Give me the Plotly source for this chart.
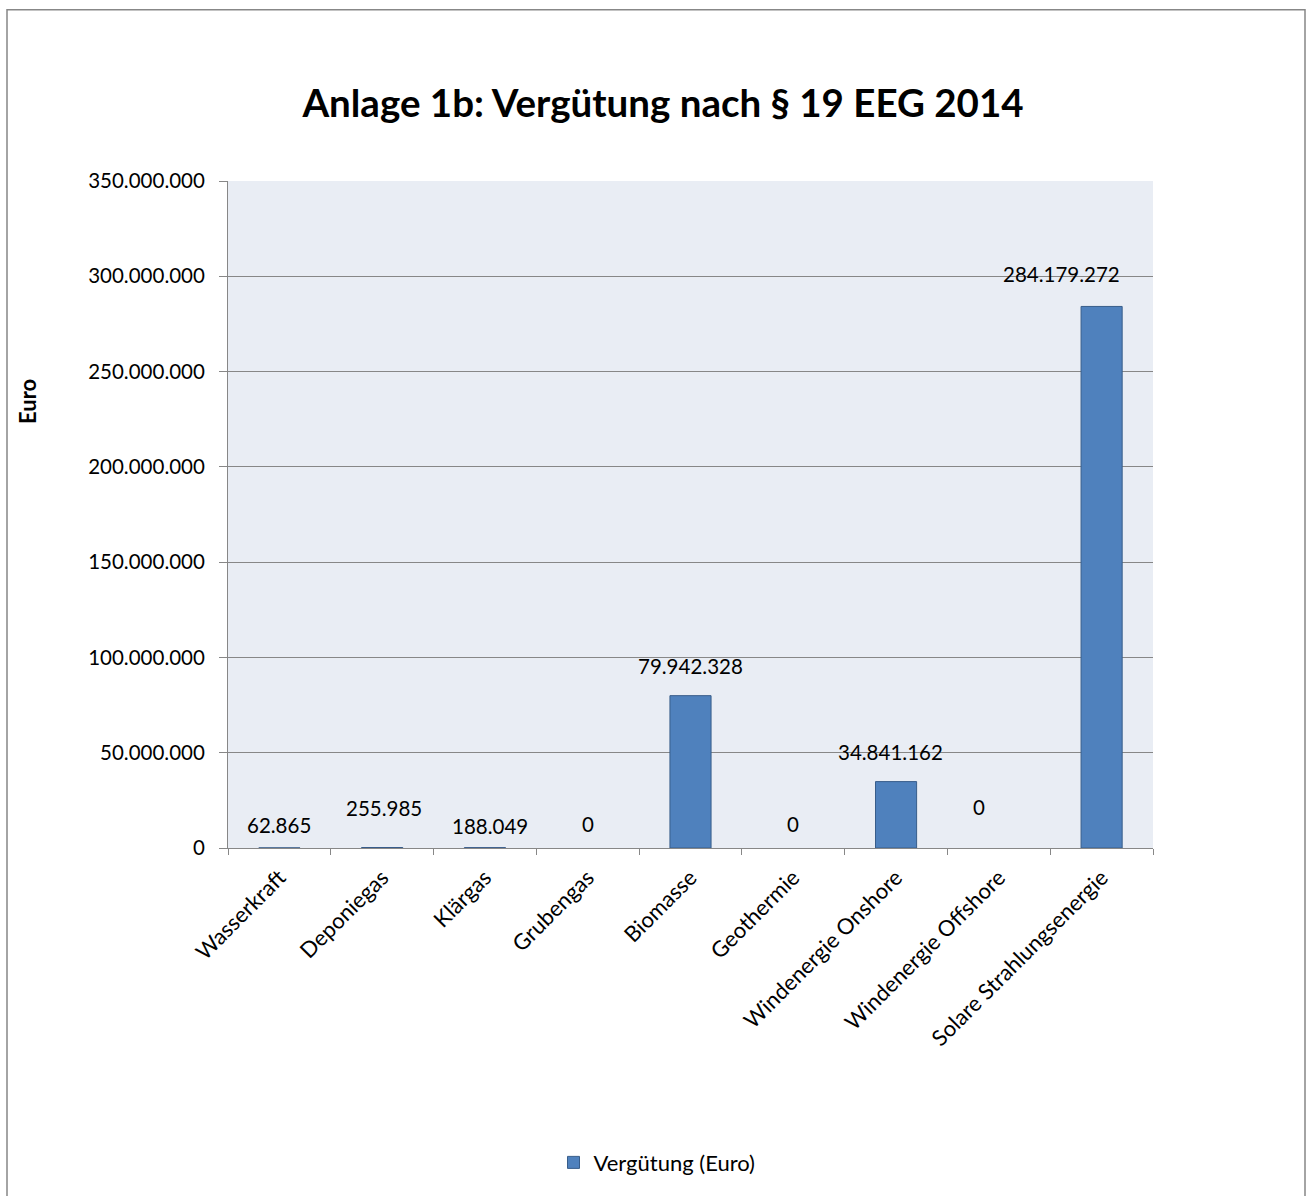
import plotly.graph_objects as go

categories = ["Wasserkraft", "Deponiegas", "Klärgas", "Grubengas", "Biomasse",
              "Geothermie", "Windenergie Onshore", "Windenergie Offshore",
              "Solare Strahlungsenergie"]
values = [62865, 255985, 188049, 0, 79942328, 0, 34841162, 0, 284179272]
series_name = "Vergütung (Euro)"
y_ticks = [0, 50000000, 100000000, 150000000, 200000000, 250000000, 300000000, 350000000]

# label placement offsets (pixels), styling only
label_yshift = [23, 40, 22, 24, 30, 24, 30, 41, 32]
label_xshift = [0, 2, 5, 0, 0, 0, -6, -20, -40]

W, H = 1307, 1196
L, R, T, B = 228, 1153, 181, 851
pw, ph = R - L, B - T

def px(x):
    return (x - L) / pw

def py(y):
    return (B - y) / ph

FONT = "Lato, 'Liberation Sans', sans-serif"
NUM = 20.5
TXT = 22

fig = go.Figure()
fig.add_trace(go.Bar(
    x=categories, y=values, name=series_name,
    marker=dict(color="#4F81BD",
                line=dict(color="#385D8A", width=[1 if v > 0 else 0 for v in values])),
    width=0.4,
))

def fmt(v):
    return f"{v:,}".replace(",", ".")

for i, (c, v) in enumerate(zip(categories, values)):
    fig.add_annotation(x=c, y=v, xref="x", yref="y", text=fmt(v), showarrow=False,
                       yanchor="middle", xanchor="center",
                       yshift=label_yshift[i], xshift=label_xshift[i],
                       font=dict(family=FONT, size=NUM, color="#000000"))

fig.add_annotation(x=px(27), y=py(403), xref="paper", yref="paper", text="<b>Euro</b>",
                   textangle=-90, showarrow=False, xanchor="center", yanchor="middle",
                   font=dict(family=FONT, size=TXT, color="#000000"))

fig.add_shape(type="rect", xref="paper", yref="paper",
              x0=px(7), x1=px(1305), y0=py(9), y1=py(1210),
              line=dict(color="#878787", width=1.5), fillcolor="rgba(0,0,0,0)", layer="below")

fig.update_layout(
    width=W, height=H,
    margin=dict(l=L, r=W - R, t=T, b=H - B),
    paper_bgcolor="white",
    plot_bgcolor="#E9EDF4",
    separators=",.",
    font=dict(family=FONT, size=TXT, color="#000000"),
    title=dict(text="<b>Anlage 1b: Vergütung nach § 19 EEG 2014</b>",
               x=663 / W, xanchor="center", y=1 - 104 / H, yanchor="middle",
               font=dict(family=FONT, size=38.5, color="#000000")),
    showlegend=True,
    legend=dict(orientation="h", x=px(657), y=py(1167), xanchor="center", yanchor="middle",
                font=dict(family=FONT, size=TXT), bgcolor="rgba(0,0,0,0)",
                itemwidth=30),
    bargap=0.6,
)
fig.update_yaxes(range=[0, 350000000], tickvals=y_ticks, tickformat=",d",
                 showgrid=True, gridcolor="#878787", gridwidth=1,
                 showline=True, linecolor="#878787", linewidth=1,
                 ticks="outside", ticklen=8, tickcolor="#878787",
                 ticklabelstandoff=10, zeroline=False,
                 tickfont=dict(family=FONT, size=NUM))
fig.update_xaxes(showline=True, linecolor="#878787", linewidth=1,
                 ticks="outside", ticklen=6, tickcolor="#878787", tickson="boundaries",
                 tickangle=-45, showgrid=False, ticklabelstandoff=7,
                 tickfont=dict(family=FONT, size=TXT))

fig.write_html("out.html", config={"displayModeBar": False},
               post_script="document.body.style.margin='0';document.body.style.overflow='hidden';")
